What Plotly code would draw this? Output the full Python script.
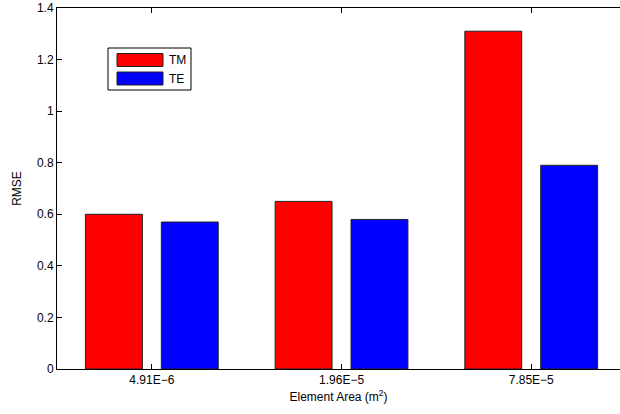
import plotly.graph_objects as go

categories = ["4.91E\u22126", "1.96E\u22125", "7.85E\u22125"]
positions = [1, 2, 3]
tm_values = [0.60, 0.65, 1.31]
te_values = [0.57, 0.58, 0.79]
series_names = ["TM", "TE"]
series_colors = ["#ff0000", "#0000ff"]
y_ticks = [0, 0.2, 0.4, 0.6, 0.8, 1.0, 1.2, 1.4]

W, H = 620, 414
ML, MR, MT, MB = 57, 0, 8, 45
FONT = "Liberation Sans, Arial, Helvetica, sans-serif"

fig = go.Figure()
for name, vals, col in zip(series_names, [tm_values, te_values], series_colors):
    fig.add_trace(go.Bar(
        x=positions, y=vals, name=name, showlegend=False,
        marker=dict(color=col, line=dict(color="#222222", width=1)),
    ))

pw = W - ML - MR
ph = H - MT - MB
def px(x):
    return (x - ML) / pw
def py(y):
    return (H - MB - y) / ph

shapes = [dict(type="rect", xref="paper", yref="paper",
               x0=px(108), x1=px(191), y0=py(90), y1=py(48),
               line=dict(color="black", width=1), fillcolor="white", layer="above")]
annotations = []
for i, (name, col) in enumerate(zip(series_names, series_colors)):
    top = 53.5 + i * 18.5
    shapes.append(dict(type="rect", xref="paper", yref="paper",
                       x0=px(117), x1=px(163), y0=py(top + 13), y1=py(top),
                       line=dict(color="#222222", width=1), fillcolor=col, layer="above"))
    annotations.append(dict(xref="paper", yref="paper", x=px(167), y=py(top + 6.5),
                            text=name, showarrow=False, xanchor="left", yanchor="middle",
                            font=dict(family=FONT, size=12, color="black")))

fig.update_layout(
    width=W, height=H,
    margin=dict(l=ML, r=MR, t=MT, b=MB, pad=0),
    paper_bgcolor="white", plot_bgcolor="white",
    barmode="group", bargap=0.2, bargroupgap=0.25,
    font=dict(family=FONT, size=12, color="black"),
    shapes=shapes, annotations=annotations,
    xaxis=dict(
        range=[0.5, 3.468], tickvals=positions, ticktext=categories,
        showline=True, linecolor="black", linewidth=1, mirror="ticks",
        ticks="inside", ticklen=5, tickcolor="black", showgrid=False, zeroline=False,
        tickfont=dict(size=12),
        title=dict(text="Element Area (m<sup>2</sup>)", font=dict(size=12), standoff=6),
    ),
    yaxis=dict(
        range=[0, 1.4], tickvals=y_ticks, ticktext=["0", "0.2", "0.4", "0.6", "0.8", "1", "1.2", "1.4"],
        showline=True, linecolor="black", linewidth=1, mirror=False,
        ticks="inside", ticklen=5, tickcolor="black", showgrid=False, zeroline=False,
        tickfont=dict(size=12),
        title=dict(text="RMSE", font=dict(size=12), standoff=12),
    ),
)

fig.write_html("out.html", config={"displayModeBar": False},
               post_script="document.body.style.margin='0';document.body.style.overflow='hidden';")
